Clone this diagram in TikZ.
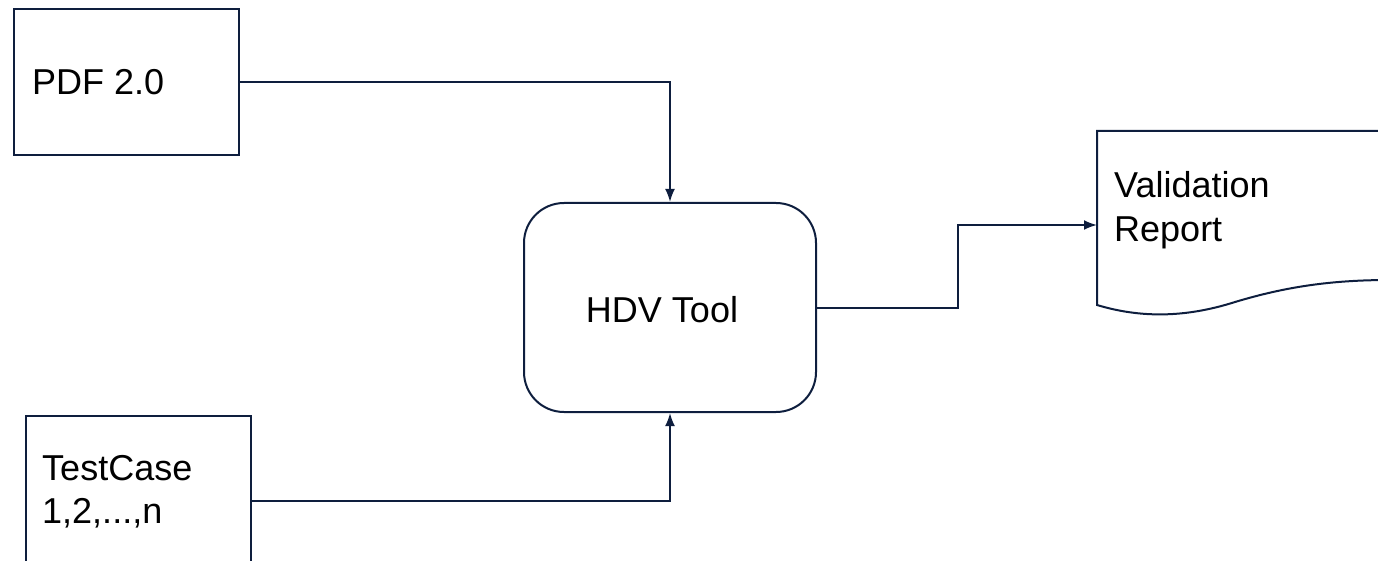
\documentclass[tikz,border=0pt]{standalone}
\usepackage{fontspec}
\setmainfont{Liberation Sans}
\usetikzlibrary{arrows.meta}
\definecolor{navy}{RGB}{14,30,62}
\tikzset{
  box/.style={draw=navy, line width=2pt, inner sep=0pt, anchor=north west},
  hdvbox/.style={draw=navy, line width=2pt, rounded corners=40pt, inner sep=0pt},
  txt/.style={font=\fontsize{36}{43}\selectfont, text=black, inner sep=0pt, anchor=base west},
  conn/.style={draw=navy, line width=2pt, -{Latex[length=13pt,width=10pt]}},
}
\begin{document}
\begin{tikzpicture}[x=1pt,y=1pt]
\useasboundingbox (0,0) rectangle (1378,-561);
\clip (0,0) rectangle (1378,-561);
% boxes
\node[box, minimum width=225pt, minimum height=146pt] (pdf) at (13,-8) {};
\node[txt] (pdftxt) at (32,-95) {PDF 2.0};
\node[box, minimum width=225pt, minimum height=170pt] (tc) at (25,-415) {};
\node[txt] (tctxt1) at (42,-480) {TestCase};
\node[txt] (tctxt2) at (42,-523) {1,2,...,n};
\node[hdvbox, minimum width=292pt, minimum height=209pt] (hdv) at (670,-307.5) {};
\node[font=\fontsize{36}{43}\selectfont, inner sep=0pt, anchor=base] (hdvtxt) at (662,-322) {HDV Tool};
% report document shape
\draw[navy, line width=2pt] (1390,-131) -- (1097,-131) -- (1097,-305)
  .. controls (1140,-318) and (1185,-318) .. (1235,-302)
  .. controls (1285,-287) and (1330,-280) .. (1390,-280);
\coordinate (rin) at (1097,-225);
\coordinate (bend) at (958,-307.5);
\node[txt] (reptxt1) at (1114,-198) {Validation};
\node[txt] (reptxt2) at (1114,-242) {Report};
% connectors
\draw[conn] (pdf.east) -| (hdv.north);
\draw[conn] (tc.east) -| (hdv.south);
\draw[conn] (hdv.east) -- (bend) |- (rin);
\end{tikzpicture}
\end{document}
